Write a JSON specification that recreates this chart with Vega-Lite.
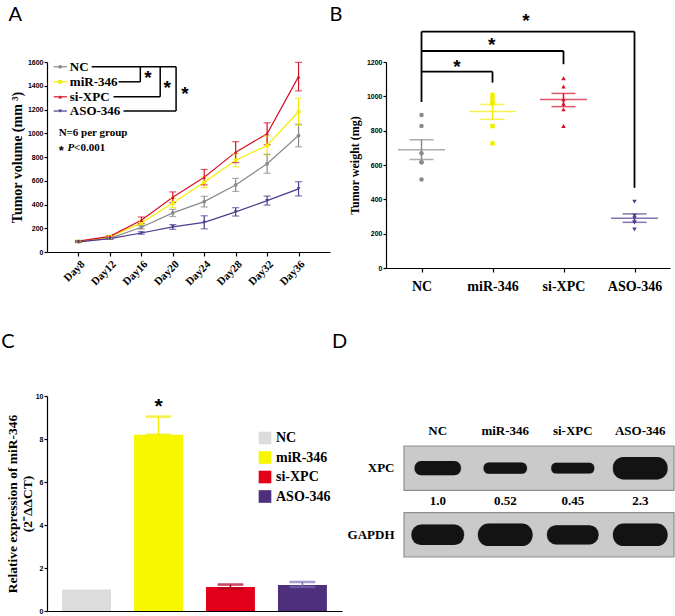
{
  "$schema": "https://vega.github.io/schema/vega-lite/v6.json",
  "background": "white",
  "padding": {"left": 1, "top": 5, "right": 0, "bottom": 0},
  "spacing": 39,
  "resolve": {"scale": {"color": "independent", "shape": "independent", "stroke": "independent", "fill": "independent", "strokeWidth": "independent"}, "legend": {"color": "independent"}},
  "config": {
    "view": {"stroke": null},
    "axis": {"domainColor": "black", "tickColor": "black", "labelColor": "black", "titleColor": "black", "grid": false, "labelFont": "Liberation Sans", "labelFontWeight": "bold", "labelFontSize": 7, "titleFont": "Liberation Serif", "titleFontWeight": "bold", "titleFontSize": 13, "tickSize": 3, "domainWidth": 1.2, "tickWidth": 1.2, "labelPadding": 1},
    "title": {"font": "Lato", "fontSize": 20, "fontWeight": "normal", "anchor": "start", "frame": "bounds", "color": "black"}
  },
  "datasets": {
    "growth": [
      {"group": "NC", "day": 8, "mean": 88, "lo": 83, "hi": 93},
      {"group": "NC", "day": 12, "mean": 115, "lo": 109, "hi": 121},
      {"group": "NC", "day": 16, "mean": 208, "lo": 193, "hi": 223},
      {"group": "NC", "day": 20, "mean": 329, "lo": 299, "hi": 359},
      {"group": "NC", "day": 24, "mean": 424, "lo": 379, "hi": 469},
      {"group": "NC", "day": 28, "mean": 565, "lo": 510, "hi": 620},
      {"group": "NC", "day": 32, "mean": 743, "lo": 663, "hi": 823},
      {"group": "NC", "day": 36, "mean": 981, "lo": 886, "hi": 1076},
      {"group": "miR-346", "day": 8, "mean": 88, "lo": 83, "hi": 93},
      {"group": "miR-346", "day": 12, "mean": 128, "lo": 122, "hi": 134},
      {"group": "miR-346", "day": 16, "mean": 245, "lo": 225, "hi": 265},
      {"group": "miR-346", "day": 20, "mean": 413, "lo": 373, "hi": 453},
      {"group": "miR-346", "day": 24, "mean": 587, "lo": 542, "hi": 632},
      {"group": "miR-346", "day": 28, "mean": 773, "lo": 718, "hi": 828},
      {"group": "miR-346", "day": 32, "mean": 897, "lo": 817, "hi": 977},
      {"group": "miR-346", "day": 36, "mean": 1181, "lo": 1066, "hi": 1296},
      {"group": "si-XPC", "day": 8, "mean": 92, "lo": 87, "hi": 97},
      {"group": "si-XPC", "day": 12, "mean": 132, "lo": 126, "hi": 138},
      {"group": "si-XPC", "day": 16, "mean": 267, "lo": 239, "hi": 295},
      {"group": "si-XPC", "day": 20, "mean": 461, "lo": 416, "hi": 506},
      {"group": "si-XPC", "day": 24, "mean": 630, "lo": 565, "hi": 695},
      {"group": "si-XPC", "day": 28, "mean": 841, "lo": 753, "hi": 929},
      {"group": "si-XPC", "day": 32, "mean": 996, "lo": 904, "hi": 1088},
      {"group": "si-XPC", "day": 36, "mean": 1477, "lo": 1357, "hi": 1597},
      {"group": "ASO-346", "day": 8, "mean": 85, "lo": 80, "hi": 90},
      {"group": "ASO-346", "day": 12, "mean": 112, "lo": 107, "hi": 117},
      {"group": "ASO-346", "day": 16, "mean": 160, "lo": 150, "hi": 170},
      {"group": "ASO-346", "day": 20, "mean": 211, "lo": 191, "hi": 231},
      {"group": "ASO-346", "day": 24, "mean": 250, "lo": 195, "hi": 305},
      {"group": "ASO-346", "day": 28, "mean": 338, "lo": 303, "hi": 373},
      {"group": "ASO-346", "day": 32, "mean": 433, "lo": 395, "hi": 471},
      {"group": "ASO-346", "day": 36, "mean": 532, "lo": 472, "hi": 592}
    ],
    "legendA": [
      {"group": "NC", "row": 1560},
      {"group": "miR-346", "row": 1433},
      {"group": "si-XPC", "row": 1307},
      {"group": "ASO-346", "row": 1187}
    ],
    "bracketsA": [
      {"x": 9.68, "x2": 20.42, "y": 1560, "y2": 1560},
      {"x": 13.1, "x2": 15.87, "y": 1433, "y2": 1433},
      {"x": 12.46, "x2": 18.4, "y": 1307, "y2": 1307},
      {"x": 13.73, "x2": 20.42, "y": 1187, "y2": 1187},
      {"x": 15.87, "x2": 15.87, "y": 1560, "y2": 1433},
      {"x": 18.4, "x2": 18.4, "y": 1560, "y2": 1307},
      {"x": 20.42, "x2": 20.42, "y": 1560, "y2": 1187}
    ],
    "starsA": [
      {"x": 16.85, "y": 1462},
      {"x": 19.28, "y": 1378},
      {"x": 21.56, "y": 1330}
    ],
    "weights": [
      {"group": "NC", "g": 1, "w": 891},
      {"group": "NC", "g": 1, "w": 827},
      {"group": "NC", "g": 1, "w": 669},
      {"group": "NC", "g": 1, "w": 616},
      {"group": "NC", "g": 1, "w": 616},
      {"group": "NC", "g": 1, "w": 515},
      {"group": "miR-346", "g": 2, "w": 1008},
      {"group": "miR-346", "g": 2, "w": 986},
      {"group": "miR-346", "g": 2, "w": 961},
      {"group": "miR-346", "g": 2, "w": 961},
      {"group": "miR-346", "g": 2, "w": 827},
      {"group": "miR-346", "g": 2, "w": 726},
      {"group": "si-XPC", "g": 3, "w": 1105},
      {"group": "si-XPC", "g": 3, "w": 1057},
      {"group": "si-XPC", "g": 3, "w": 982},
      {"group": "si-XPC", "g": 3, "w": 957},
      {"group": "si-XPC", "g": 3, "w": 924},
      {"group": "si-XPC", "g": 3, "w": 827},
      {"group": "ASO-346", "g": 4, "w": 387},
      {"group": "ASO-346", "g": 4, "w": 305},
      {"group": "ASO-346", "g": 4, "w": 290},
      {"group": "ASO-346", "g": 4, "w": 266},
      {"group": "ASO-346", "g": 4, "w": 266},
      {"group": "ASO-346", "g": 4, "w": 224}
    ],
    "weightStats": [
      {"group": "NC", "g": 1, "mean": 689, "lo": 632, "hi": 747},
      {"group": "miR-346", "g": 2, "mean": 911, "lo": 866, "hi": 953},
      {"group": "si-XPC", "g": 3, "mean": 982, "lo": 940, "hi": 1017},
      {"group": "ASO-346", "g": 4, "mean": 290, "lo": 266, "hi": 315}
    ],
    "bracketsB": [
      {"x": 1, "x2": 4, "y": 1377, "y2": 1377},
      {"x": 1, "x2": 1, "y": 967, "y2": 1377},
      {"x": 4, "x2": 4, "y": 467, "y2": 1377},
      {"x": 1, "x2": 3, "y": 1264, "y2": 1264},
      {"x": 3, "x2": 3, "y": 1187, "y2": 1264},
      {"x": 1, "x2": 2, "y": 1144, "y2": 1144},
      {"x": 2, "x2": 2, "y": 1080, "y2": 1144}
    ],
    "starsB": [
      {"x": 2.47, "y": 1436},
      {"x": 1.99, "y": 1299},
      {"x": 1.5, "y": 1173}
    ],
    "expr": [
      {"group": "NC", "value": 1.0},
      {"group": "miR-346", "value": 8.2},
      {"group": "si-XPC", "value": 1.12},
      {"group": "ASO-346", "value": 1.21}
    ],
    "exprErr": [
      {"group": "miR-346", "lo": 8.2, "hi": 9.04},
      {"group": "si-XPC", "lo": 1.05, "hi": 1.23},
      {"group": "ASO-346", "lo": 1.12, "hi": 1.35}
    ],
    "blot": [
      {"lane": "NC", "protein": "XPC", "density": 1.0},
      {"lane": "miR-346", "protein": "XPC", "density": 0.52},
      {"lane": "si-XPC", "protein": "XPC", "density": 0.45},
      {"lane": "ASO-346", "protein": "XPC", "density": 2.3},
      {"lane": "NC", "protein": "GAPDH", "density": 1.98},
      {"lane": "miR-346", "protein": "GAPDH", "density": 2.3},
      {"lane": "si-XPC", "protein": "GAPDH", "density": 1.81},
      {"lane": "ASO-346", "protein": "GAPDH", "density": 2.3}
    ],
    "ratios": [
      {"lane": "NC", "protein": "XPC", "ratio": "1.0"},
      {"lane": "miR-346", "protein": "XPC", "ratio": "0.52"},
      {"lane": "si-XPC", "protein": "XPC", "ratio": "0.45"},
      {"lane": "ASO-346", "protein": "XPC", "ratio": "2.3"}
    ],
    "membranes": [
      {"protein": "XPC"},
      {"protein": "GAPDH"}
    ]
  },
  "vconcat": [
    {
      "spacing": -1,
      "resolve": {"scale": {"color": "independent", "shape": "independent", "stroke": "independent", "fill": "independent", "strokeWidth": "independent"}, "legend": {"color": "independent"}},
      "hconcat": [
        {
          "width": 283,
          "height": 190,
          "title": {"text": "A", "offset": 33, "dx": -2},
          "encoding": {
            "x": {"type": "quantitative", "scale": {"domain": [4, 40], "nice": false}, "axis": {"values": [8, 12, 16, 20, 24, 28, 32, 36], "labelExpr": "'Day' + datum.value", "labelAngle": -45, "labelFont": "Liberation Serif", "labelFontSize": 11, "tickSize": 4, "labelPadding": 2, "title": null}},
            "y": {"type": "quantitative", "scale": {"domain": [0, 1600], "nice": false}, "axis": {"values": [0, 200, 400, 600, 800, 1000, 1200, 1400, 1600], "format": "d", "title": "Tumor volume (mm ³)", "titleFontSize": 14, "titlePadding": 3}}
          },
          "layer": [
            {
              "data": {"name": "growth"},
              "mark": {"type": "line", "strokeWidth": 1.2},
              "encoding": {
                "x": {"field": "day"},
                "y": {"field": "mean"},
                "color": {"field": "group", "type": "nominal", "scale": {"domain": ["NC", "miR-346", "si-XPC", "ASO-346"], "range": ["#8a8a8a", "#f2ee00", "#d7102a", "#4e3b8f"]}, "legend": null},
                "order": {"field": "day"}
              }
            },
            {
              "data": {"name": "growth"},
              "mark": {"type": "rule", "strokeWidth": 1.2},
              "encoding": {
                "x": {"field": "day"},
                "y": {"field": "lo"},
                "y2": {"field": "hi"},
                "color": {"field": "group", "type": "nominal", "legend": null}
              }
            },
            {
              "data": {"name": "growth"},
              "mark": {"type": "tick", "orient": "horizontal", "size": 7, "thickness": 1.2},
              "encoding": {
                "x": {"field": "day"},
                "y": {"field": "lo"},
                "color": {"field": "group", "type": "nominal", "legend": null}
              }
            },
            {
              "data": {"name": "growth"},
              "mark": {"type": "tick", "orient": "horizontal", "size": 7, "thickness": 1.2},
              "encoding": {
                "x": {"field": "day"},
                "y": {"field": "hi"},
                "color": {"field": "group", "type": "nominal", "legend": null}
              }
            },
            {
              "data": {"name": "growth"},
              "mark": {"type": "point", "filled": true, "size": 14, "opacity": 1},
              "encoding": {
                "x": {"field": "day"},
                "y": {"field": "mean"},
                "color": {"field": "group", "type": "nominal", "legend": null},
                "shape": {"field": "group", "type": "nominal", "scale": {"domain": ["NC", "miR-346", "si-XPC", "ASO-346"], "range": ["circle", "square", "triangle-up", "triangle-down"]}, "legend": null}
              }
            },
            {
              "data": {"name": "legendA"},
              "mark": {"type": "rule", "strokeWidth": 1.2},
              "encoding": {
                "x": {"datum": 4.85},
                "x2": {"datum": 6.53},
                "y": {"field": "row"},
                "color": {"field": "group", "type": "nominal", "legend": null}
              }
            },
            {
              "data": {"name": "legendA"},
              "mark": {"type": "point", "filled": true, "size": 14, "opacity": 1},
              "encoding": {
                "x": {"datum": 5.68},
                "y": {"field": "row"},
                "color": {"field": "group", "type": "nominal", "legend": null},
                "shape": {"field": "group", "type": "nominal", "legend": null}
              }
            },
            {
              "data": {"name": "legendA"},
              "mark": {"type": "text", "align": "left", "baseline": "middle", "font": "Liberation Serif", "fontWeight": "bold", "fontSize": 13, "color": "black"},
              "encoding": {
                "x": {"datum": 6.9},
                "y": {"field": "row"},
                "text": {"field": "group"}
              }
            },
            {
              "data": {"name": "bracketsA"},
              "mark": {"type": "rule", "strokeWidth": 1.5, "color": "black"},
              "encoding": {
                "x": {"field": "x"},
                "x2": {"field": "x2"},
                "y": {"field": "y"},
                "y2": {"field": "y2"}
              }
            },
            {
              "data": {"name": "starsA"},
              "mark": {"type": "text", "text": "*", "align": "center", "baseline": "middle", "font": "Liberation Sans", "fontWeight": "bold", "fontSize": 19, "color": "black"},
              "encoding": {
                "x": {"field": "x"},
                "y": {"field": "y"}
              }
            },
            {
              "data": {"values": [{"t": "N=6 per group"}]},
              "mark": {"type": "text", "align": "left", "baseline": "middle", "font": "Liberation Serif", "fontWeight": "bold", "fontSize": 11, "color": "black"},
              "encoding": {
                "x": {"datum": 5.48},
                "y": {"datum": 1004},
                "text": {"field": "t"}
              }
            },
            {
              "data": {"values": [{"t": "*"}]},
              "mark": {"type": "text", "align": "left", "baseline": "middle", "font": "Liberation Sans", "fontWeight": "bold", "fontSize": 13, "color": "black", "dy": 3},
              "encoding": {
                "x": {"datum": 5.48},
                "y": {"datum": 872},
                "text": {"field": "t"}
              }
            },
            {
              "data": {"values": [{"t": "P"}]},
              "mark": {"type": "text", "align": "left", "baseline": "middle", "font": "Liberation Serif", "fontWeight": "bold", "fontStyle": "italic", "fontSize": 11, "color": "black"},
              "encoding": {
                "x": {"datum": 6.6},
                "y": {"datum": 872},
                "text": {"field": "t"}
              }
            },
            {
              "data": {"values": [{"t": "<0.001"}]},
              "mark": {"type": "text", "align": "left", "baseline": "middle", "font": "Liberation Serif", "fontWeight": "bold", "fontSize": 11, "color": "black"},
              "encoding": {
                "x": {"datum": 7.45},
                "y": {"datum": 872},
                "text": {"field": "t"}
              }
            }
          ]
        },
        {
          "width": 284,
          "height": 206,
          "title": {"text": "B", "offset": -13, "dx": -19},
          "encoding": {
            "x": {"type": "quantitative", "scale": {"domain": [0.5, 4.5], "nice": false}, "axis": {"values": [1, 2, 3, 4], "labelExpr": "['', 'NC', 'miR-346', 'si-XPC', 'ASO-346'][datum.value]", "labelFont": "Liberation Serif", "labelFontSize": 14, "tickSize": 4, "labelPadding": 7, "title": null}},
            "y": {"type": "quantitative", "scale": {"domain": [0, 1200], "nice": false}, "axis": {"values": [0, 200, 400, 600, 800, 1000, 1200], "format": "d", "title": "Tumor weight (mg)", "titleFontSize": 12, "titlePadding": 5}}
          },
          "layer": [
            {
              "data": {"name": "weights"},
              "mark": {"type": "point", "filled": true, "size": 20, "opacity": 1},
              "encoding": {
                "x": {"field": "g"},
                "y": {"field": "w"},
                "color": {"field": "group", "type": "nominal", "scale": {"domain": ["NC", "miR-346", "si-XPC", "ASO-346"], "range": ["#8a8a8a", "#f2ee00", "#d7102a", "#4e3b8f"]}, "legend": null},
                "shape": {"field": "group", "type": "nominal", "scale": {"domain": ["NC", "miR-346", "si-XPC", "ASO-346"], "range": ["circle", "square", "triangle-up", "triangle-down"]}, "legend": null}
              }
            },
            {
              "data": {"name": "weightStats"},
              "mark": {"type": "tick", "orient": "horizontal", "size": 47, "thickness": 1.5},
              "encoding": {
                "x": {"field": "g"},
                "y": {"field": "mean"},
                "color": {"field": "group", "type": "nominal", "legend": null}
              }
            },
            {
              "data": {"name": "weightStats"},
              "mark": {"type": "tick", "orient": "horizontal", "size": 24, "thickness": 1.5},
              "encoding": {
                "x": {"field": "g"},
                "y": {"field": "lo"},
                "color": {"field": "group", "type": "nominal", "legend": null}
              }
            },
            {
              "data": {"name": "weightStats"},
              "mark": {"type": "tick", "orient": "horizontal", "size": 24, "thickness": 1.5},
              "encoding": {
                "x": {"field": "g"},
                "y": {"field": "hi"},
                "color": {"field": "group", "type": "nominal", "legend": null}
              }
            },
            {
              "data": {"name": "weightStats"},
              "mark": {"type": "rule", "strokeWidth": 1.5},
              "encoding": {
                "x": {"field": "g"},
                "y": {"field": "lo"},
                "y2": {"field": "hi"},
                "color": {"field": "group", "type": "nominal", "legend": null}
              }
            },
            {
              "data": {"name": "bracketsB"},
              "mark": {"type": "rule", "strokeWidth": 1.8, "color": "black"},
              "encoding": {
                "x": {"field": "x"},
                "x2": {"field": "x2"},
                "y": {"field": "y"},
                "y2": {"field": "y2"}
              }
            },
            {
              "data": {"name": "starsB"},
              "mark": {"type": "text", "text": "*", "align": "center", "baseline": "middle", "font": "Liberation Sans", "fontWeight": "bold", "fontSize": 19, "color": "black"},
              "encoding": {
                "x": {"field": "x"},
                "y": {"field": "y"}
              }
            }
          ]
        }
      ]
    },
    {
      "spacing": -10,
      "resolve": {"scale": {"color": "independent", "shape": "independent", "stroke": "independent", "fill": "independent", "strokeWidth": "independent"}, "legend": {"color": "independent"}},
      "hconcat": [
        {
          "width": 295,
          "height": 215,
          "title": {"text": "C", "offset": 40, "dx": -4},
          "encoding": {
            "x": {"field": "group", "type": "nominal", "sort": ["NC", "miR-346", "si-XPC", "ASO-346"], "scale": {"paddingInner": 0.32, "paddingOuter": 0.21}, "axis": {"labels": false, "ticks": false, "title": null}},
            "y": {"type": "quantitative", "scale": {"domain": [0, 10], "nice": false}, "axis": {"values": [0, 2, 4, 6, 8, 10], "title": ["Relative expression of miR-346", "(2⁻ΔΔCT)"], "titleFontSize": 13.5, "titleLineHeight": 15, "titlePadding": 1}}
          },
          "layer": [
            {
              "data": {"name": "expr"},
              "mark": {"type": "bar"},
              "encoding": {
                "y": {"field": "value"},
                "color": {"field": "group", "type": "nominal", "scale": {"domain": ["NC", "miR-346", "si-XPC", "ASO-346"], "range": ["#dcdcdc", "#f7f700", "#e2001a", "#4d2f7c"]}, "legend": {"orient": "none", "legendX": 211, "legendY": 35, "title": null, "symbolType": "square", "symbolSize": 160, "symbolStrokeWidth": 0, "labelFont": "Liberation Serif", "labelFontWeight": "bold", "labelFontSize": 14, "labelColor": "black", "rowPadding": 5.5, "labelOffset": 4, "padding": 0}}
              }
            },
            {
              "data": {"name": "exprErr"},
              "mark": {"type": "rule", "strokeWidth": 1.5},
              "encoding": {
                "y": {"field": "lo"},
                "y2": {"field": "hi"},
                "stroke": {"field": "group", "type": "nominal", "scale": {"domain": ["miR-346", "si-XPC", "ASO-346"], "range": ["#f2ee00", "#b00020", "#7d6cb5"]}, "legend": null}
              }
            },
            {
              "data": {"name": "exprErr"},
              "mark": {"type": "tick", "orient": "horizontal", "size": 25, "thickness": 1.5},
              "encoding": {
                "y": {"field": "hi"},
                "stroke": {"field": "group", "type": "nominal", "legend": null},
                "fill": {"field": "group", "type": "nominal", "scale": {"domain": ["miR-346", "si-XPC", "ASO-346"], "range": ["#f2ee00", "#b00020", "#7d6cb5"]}, "legend": null}
              }
            },
            {
              "data": {"name": "exprErr"},
              "mark": {"type": "tick", "orient": "horizontal", "size": 25, "thickness": 1.5},
              "encoding": {
                "y": {"field": "lo"},
                "stroke": {"field": "group", "type": "nominal", "legend": null},
                "fill": {"field": "group", "type": "nominal", "legend": null}
              }
            },
            {
              "data": {"values": [{"group": "miR-346", "star": 9.49}]},
              "mark": {"type": "text", "text": "*", "align": "center", "baseline": "middle", "font": "Liberation Sans", "fontWeight": "bold", "fontSize": 21, "color": "black"},
              "encoding": {
                "y": {"field": "star"}
              }
            }
          ]
        },
        {
          "width": 270,
          "height": 211,
          "title": {"text": "D", "offset": 44, "dx": -15},
          "encoding": {
            "x": {"field": "lane", "type": "nominal", "sort": ["NC", "miR-346", "si-XPC", "ASO-346"], "scale": {"domain": ["NC", "miR-346", "si-XPC", "ASO-346"], "paddingInner": 0, "paddingOuter": 0}, "axis": {"orient": "top", "offset": -44, "domain": false, "ticks": false, "labelAngle": 0, "labelFont": "Liberation Serif", "labelFontSize": 13, "labelPadding": 3, "title": null}},
            "y": {"field": "protein", "type": "nominal", "scale": {"domain": ["XPC", "GAPDH"], "paddingInner": 0.336, "paddingOuter": 0.75}, "axis": {"domain": false, "ticks": false, "labelFont": "Liberation Serif", "labelFontSize": 13, "labelPadding": 10, "title": null}}
          },
          "layer": [
            {
              "data": {"name": "membranes"},
              "mark": {"type": "rect", "fill": "#cacaca", "stroke": "#8e8e8e", "strokeWidth": 1.2},
              "encoding": {
                "x": {"value": 0},
                "x2": {"value": "width"},
                "y": {"field": "protein"}
              }
            },
            {
              "data": {"name": "blot"},
              "mark": {"type": "tick", "orient": "horizontal", "size": 34, "thickness": 1, "fill": "#1a1a1a", "stroke": "#1a1a1a", "strokeJoin": "round", "opacity": 0.3},
              "encoding": {
                "x": {"field": "lane"},
                "y": {"field": "protein"},
                "strokeWidth": {"field": "density", "type": "quantitative", "scale": {"domain": [0, 2.3], "range": [7, 21.5], "zero": false}, "legend": null}
              }
            },
            {
              "data": {"name": "blot"},
              "mark": {"type": "tick", "orient": "horizontal", "size": 33, "thickness": 1, "fill": "#0d0d0d", "stroke": "#0d0d0d", "strokeJoin": "round", "opacity": 0.95},
              "encoding": {
                "x": {"field": "lane"},
                "y": {"field": "protein"},
                "strokeWidth": {"field": "density", "type": "quantitative", "scale": {"domain": [0, 2.3], "range": [4.85, 18], "zero": false}, "legend": null}
              }
            },
            {
              "data": {"name": "ratios"},
              "mark": {"type": "text", "align": "center", "baseline": "middle", "dy": 33, "font": "Liberation Serif", "fontWeight": "bold", "fontSize": 13, "color": "black"},
              "encoding": {
                "x": {"field": "lane"},
                "y": {"field": "protein"},
                "text": {"field": "ratio"}
              }
            }
          ]
        }
      ]
    }
  ]
}
